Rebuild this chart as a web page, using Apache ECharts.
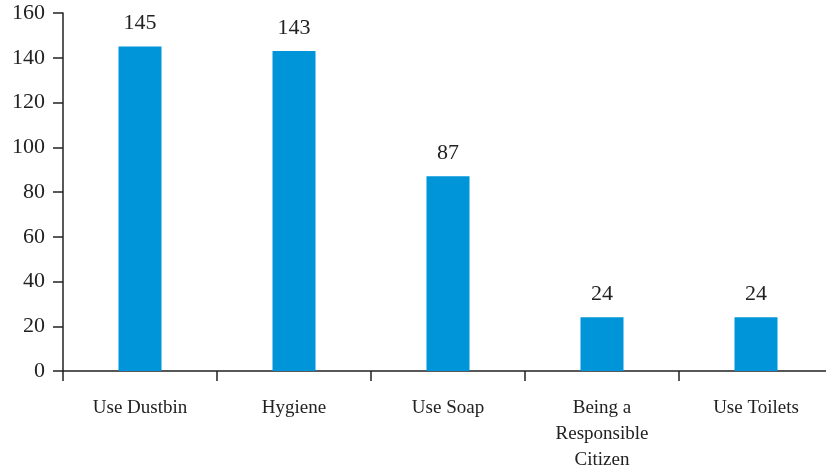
<!DOCTYPE html>
<html>
<head>
<meta charset="utf-8">
<script src="https://cdn.jsdelivr.net/npm/echarts@6/dist/echarts.min.js"></script>
<style>
  html, body { margin: 0; padding: 0; background: #fff; overflow: hidden; }
  /* canvas runs a few pixels past the right edge so the last category is cut off */
  #chart { width: 833px; height: 470px; }
</style>
</head>
<body>
<div id="chart"></div>
<script>
// Categories and counts
const categories = ['Use Dustbin', 'Hygiene', 'Use Soap', 'Being a\nResponsible\nCitizen', 'Use Toilets'];
const counts = [145, 143, 87, 24, 24];
const yTicks = { min: 0, max: 160, interval: 20 };

const FONT = '"Liberation Serif", serif';
const TEXT = '#222';

const chart = echarts.init(document.getElementById('chart'), null, { renderer: 'canvas' });
chart.setOption({
  animation: false,
  grid: { left: 63, top: 13, bottom: 99, right: 0, containLabel: false, outerBoundsMode: 'none' },
  xAxis: {
    type: 'category',
    data: categories,
    axisLine: { lineStyle: { color: '#222', width: 1.5 } },
    axisTick: { show: true, length: 10, lineStyle: { color: '#222', width: 1.5 } },
    axisLabel: { color: TEXT, fontFamily: FONT, fontSize: 19, lineHeight: 26, margin: 24, interval: 0 }
  },
  yAxis: {
    type: 'value',
    min: yTicks.min, max: yTicks.max, interval: yTicks.interval,
    splitLine: { show: false },
    axisLine: { show: true, lineStyle: { color: '#222', width: 1.5 } },
    axisTick: { show: true, length: 10, lineStyle: { color: '#222', width: 1.5 } },
    axisLabel: { color: TEXT, fontFamily: FONT, fontSize: 22, margin: 18 }
  },
  series: [{
    type: 'bar',
    data: counts,
    barWidth: 43,
    itemStyle: { color: '#0094d9' },
    label: { show: true, position: 'top', distance: 12, color: TEXT, fontFamily: FONT, fontSize: 22 }
  }]
});
</script>
</body>
</html>
